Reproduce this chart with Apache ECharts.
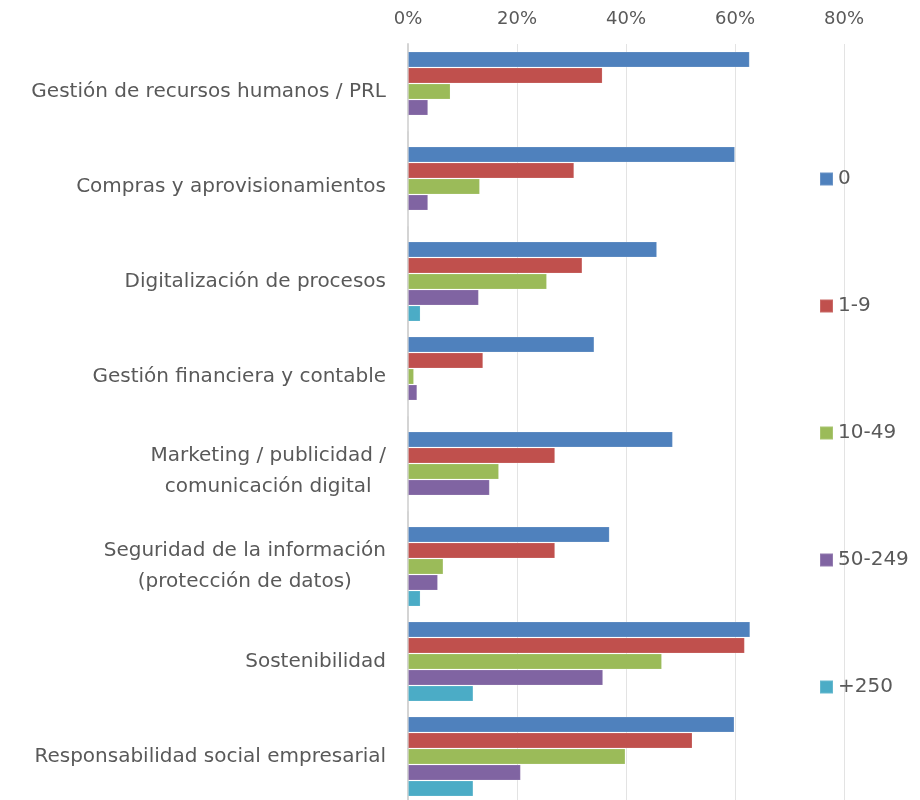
<!DOCTYPE html>
<html>
<head>
<meta charset="utf-8">
<script src="https://cdn.jsdelivr.net/npm/echarts@6/dist/echarts.min.js"></script>
<style>
  html, body { margin: 0; padding: 0; background: #fff; overflow: hidden; }
  #chart { width: 920px; height: 810px; }
</style>
</head>
<body>
<div id="chart"></div>
<script>
// categorias (de arriba a abajo)
const categories = [
  'Gestión de recursos humanos / PRL',
  'Compras y aprovisionamientos',
  'Digitalización de procesos',
  'Gestión financiera y contable',
  'Marketing / publicidad /\ncomunicación digital',
  'Seguridad de la información\n(protección de datos)',
  'Sostenibilidad',
  'Responsabilidad social empresarial'
]
const sizeNames = ['0', '1-9', '10-49', '50-249', '+250']
const xTicks = [0, 0.2, 0.4, 0.6, 0.8]

// valores por tamaño de empresa (fracción)
const s0 = [0.627, 0.600, 0.457, 0.342, 0.486, 0.370, 0.628, 0.599]
const s1_9 = [0.357, 0.305, 0.320, 0.138, 0.270, 0.270, 0.618, 0.522]
const s10_49 = [0.078, 0.132, 0.255, 0.011, 0.167, 0.065, 0.466, 0.399]
const s50_249 = [0.037, 0.037, 0.130, 0.017, 0.150, 0.055, 0.358, 0.207]
const s250 = [0, 0, 0.023, 0, 0, 0.023, 0.120, 0.120]

const colors = ['#4F81BD', '#C0504D', '#9BBB59', '#8064A2', '#4BACC6']
const seriesData = [s0, s1_9, s10_49, s50_249, s250]

const chart = echarts.init(document.getElementById('chart'))

const textColor = '#595959'
const font = 'DejaVu Sans'

const option = {
  animation: false,
  color: colors,
  textStyle: { fontFamily: font },
  legend: {
    orient: 'vertical',
    left: 814,
    top: 164,
    itemWidth: 13,
    itemHeight: 13,
    itemGap: 107,
    icon: 'rect',
    data: sizeNames,
    textStyle: { fontSize: 20, color: textColor, fontFamily: font }
  },
  // el contenedor mide 810px para que la rejilla pase del borde inferior
  grid: {
    left: 408,
    width: 436,
    top: 44,
    height: 760,
    containLabel: false
  },
  xAxis: {
    type: 'value',
    position: 'top',
    min: xTicks[0],
    max: xTicks[xTicks.length - 1],
    interval: 0.2,
    axisLine: { show: false },
    axisTick: { show: false },
    axisLabel: {
      margin: 16,
      fontSize: 18,
      color: textColor,
      fontFamily: font,
      formatter: v => Math.round(v * 100) + '%'
    },
    splitLine: { lineStyle: { color: '#e3e3e3', width: 1 } }
  },
  yAxis: {
    type: 'category',
    inverse: true,
    data: categories,
    axisLine: { lineStyle: { color: '#d4d4d4', width: 2 } },
    axisTick: { show: false },
    axisLabel: {
      margin: 22,
      fontSize: 20,
      color: textColor,
      fontFamily: font,
      lineHeight: 31,
      formatter: v => v.split('\n').map(l => '{c|' + l + '}').join('\n'),
      rich: {
        c: { fontSize: 20, color: textColor, fontFamily: font, lineHeight: 31, align: 'center' }
      }
    }
  },
  series: seriesData.map((d, i) => ({
    name: sizeNames[i],
    type: 'bar',
    data: d,
    barWidth: 16,
    barGap: '0%',
    itemStyle: { color: colors[i], borderColor: 'rgba(255,255,255,0.15)', borderWidth: 1 }
  }))
}

chart.setOption(option)
</script>
</body>
</html>
